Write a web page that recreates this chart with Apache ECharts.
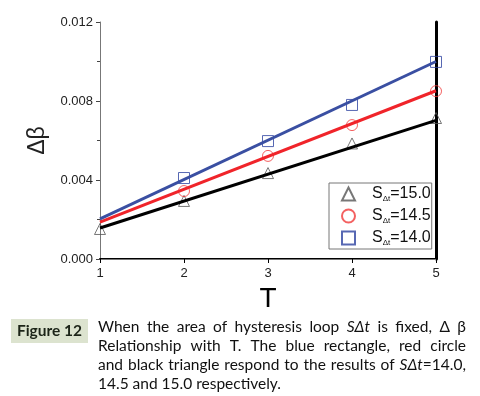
<!DOCTYPE html>
<html><head><meta charset="utf-8">
<script src="https://cdn.jsdelivr.net/npm/echarts@6/dist/echarts.min.js"></script>
<style>html,body{margin:0;padding:0;background:#fff}#c{width:480px;height:396px}</style>
</head><body><div id="c"></div>
<script>
// ---- data ----
const T = [1, 2, 3, 4, 5];
const s150 = [0.00152, 0.00294, 0.00435, 0.00585, 0.00714];
const s145 = [null, 0.00344, 0.00522, 0.00678, 0.00850];
const s140 = [null, 0.00410, 0.00597, 0.00780, 0.00998];
// fitted lines, end points (T=1 and T=5)
const fitT = [1, 5];
const fit150 = [0.00157, 0.00702];
const fit145 = [0.00187, 0.00852];
const fit140 = [0.00203, 0.01000];
const legendNames = ['S=15.0', 'S=14.5', 'S=14.0'];
const legendValues = ['15.0', '14.5', '14.0'];

const pair = (xs, ys) => xs.map((x, i) => [x, ys[i]]).filter(p => p[1] !== null);

const chart = echarts.init(document.getElementById('c'));
const axisFont = 'Liberation Sans, Arial, sans-serif';
const option = {
  animation: false,
  grid: {left: 100, right: 44, top: 22, bottom: 137},
  xAxis: [{
    type: 'value', min: 1, max: 5, interval: 1,
    axisLine: {show: true, onZero: false, lineStyle: {color: '#000', width: 2}},
    axisTick: {show: true, inside: false, length: 4, lineStyle: {color: '#000'}},
    axisLabel: {fontFamily: axisFont, fontSize: 13, color: '#222', margin: 8},
    splitLine: {show: false},
    name: 'T', nameLocation: 'middle', nameGap: 23,
    nameTextStyle: {fontFamily: axisFont, fontSize: 28, color: '#000'}
  }, {
    type: 'value', position: 'top', min: 1, max: 5, interval: 1,
    axisLine: {show: true, lineStyle: {color: '#777', width: 1}},
    axisTick: {show: false}, axisLabel: {show: false}, splitLine: {show: false}
  }],
  yAxis: [{
    type: 'value', min: 0, max: 0.012, interval: 0.004,
    axisLine: {show: true, lineStyle: {color: '#777', width: 1}},
    axisTick: {show: true, length: 4, lineStyle: {color: '#444'}},
    minorTick: {show: true, splitNumber: 2, length: 3, lineStyle: {color: '#444'}},
    axisLabel: {fontFamily: axisFont, fontSize: 13, color: '#222', margin: 7,
      formatter: v => v.toFixed(3)},
    splitLine: {show: false},
    name: 'Δβ', nameLocation: 'middle', nameGap: 47, nameRotate: 90,
    nameTextStyle: {fontFamily: axisFont, fontSize: 23, color: '#222'}
  }, {
    type: 'value', position: 'right', min: 0, max: 0.012, interval: 0.004,
    axisLine: {show: true, lineStyle: {color: '#000', width: 3}},
    axisTick: {show: false}, axisLabel: {show: false}, splitLine: {show: false}
  }],
  legend: {
    orient: 'vertical', left: 329, top: 183,
    data: legendNames,
    backgroundColor: '#fff',
    borderColor: '#777', borderWidth: 1, borderRadius: 0,
    padding: [2, 1, 2, 12], itemGap: 4,
    itemWidth: 13, itemHeight: 13,
    formatter: name => '{gap|}{s|S}{sub|Δt}{s|=' + legendValues[legendNames.indexOf(name)] + '}',
    textStyle: {
      rich: {
        gap: {width: 12, lineHeight: 20},
        s: {fontFamily: axisFont, fontSize: 16, color: '#111', lineHeight: 20},
        sub: {fontFamily: axisFont, fontSize: 8, color: '#111', padding: [10, 0, 0, 0], lineHeight: 20}
      }
    }
  },
  series: [
    {name: 'fit15', type: 'line', data: pair(fitT, fit150), symbol: 'none',
      lineStyle: {color: '#000', width: 3}, z: 3},
    {name: 'fit145', type: 'line', data: pair(fitT, fit145), symbol: 'none',
      lineStyle: {color: '#f0242a', width: 3}, z: 3},
    {name: 'fit14', type: 'line', data: pair(fitT, fit140), symbol: 'none',
      lineStyle: {color: '#3a4fa2', width: 3}, z: 3},
    {name: legendNames[0], type: 'scatter', data: pair(T, s150), symbol: 'triangle', symbolSize: 11,
      itemStyle: {color: 'rgba(0,0,0,0)', borderColor: '#555', borderWidth: 1}, z: 2},
    {name: legendNames[1], type: 'scatter', data: pair(T, s145), symbol: 'circle', symbolSize: 11,
      itemStyle: {color: 'rgba(0,0,0,0)', borderColor: '#f03a3a', borderWidth: 1}, z: 2},
    {name: legendNames[2], type: 'scatter', data: pair(T, s140), symbol: 'rect', symbolSize: 11,
      itemStyle: {color: 'rgba(0,0,0,0)', borderColor: '#2d42a0', borderWidth: 1}, z: 2}
  ]
};
chart.setOption(option);

// ---- caption ----
const capFont = 'Lato, "Open Sans", sans-serif';
const capSize = 15.5;
const cvs = document.createElement('canvas').getContext('2d');
function w(txt, italic) {
  cvs.font = (italic ? 'italic ' : '') + capSize + 'px Lato';
  return cvs.measureText(txt).width;
}
const capLines = [
  [['When'],['the'],['area'],['of'],['hysteresis'],['loop'],[['SΔt',1]],['is'],['fixed,'],['Δ'],['β']],
  [['Relationship'],['with'],['T.'],['The'],['blue'],['rectangle,'],['red'],['circle']],
  [['and'],['black'],['triangle'],['respond'],['to'],['the'],['results'],['of'],[['SΔt',1],['=14.0,']]],
  [['14.5'],['and'],['15.0'],['respectively.']]
];
const capX0 = 98, capX1 = 466, midY = [327, 346, 365, 384];
const graphics = [
  {type: 'rect', shape: {x: 11, y: 319, width: 77, height: 24}, style: {fill: '#dce3cf'}},
  {type: 'text', x: 49.5, y: 331, style: {text: 'Figure 12', fill: '#1c2418', font: 'bold 15.5px ' + capFont,
    textAlign: 'center', textVerticalAlign: 'middle'}}
];
capLines.forEach((words, li) => {
  const parts = words.map(wd => wd.map(p => typeof p === 'string' ? [p, 0] : p));
  const widths = parts.map(ps => ps.reduce((s, p) => s + w(p[0], p[1]), 0));
  const total = widths.reduce((a, b) => a + b, 0);
  const justify = li < capLines.length - 1;
  const gap = justify ? (capX1 - capX0 - total) / (words.length - 1) : w(' ');
  let x = capX0;
  parts.forEach((ps, i) => {
    ps.forEach(p => {
      graphics.push({type: 'text', x: x, y: midY[li], style: {text: p[0], fill: '#111',
        font: (p[1] ? 'italic ' : '') + capSize + 'px ' + capFont, textVerticalAlign: 'middle'}});
      x += w(p[0], p[1]);
    });
    x += gap;
  });
});
chart.setOption({graphic: graphics});
</script></body></html>
